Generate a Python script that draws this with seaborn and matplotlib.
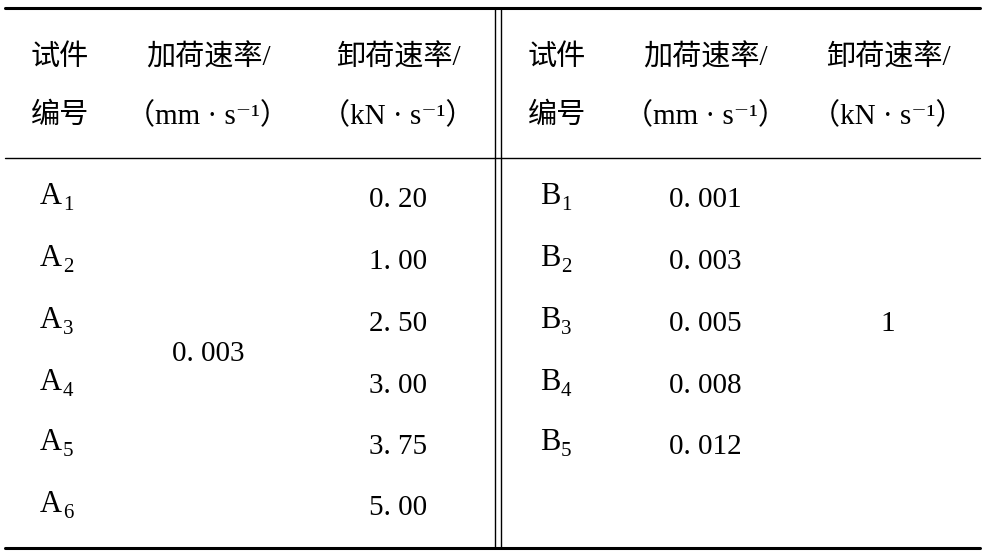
import matplotlib
matplotlib.use("Agg")
import matplotlib.pyplot as plt
import seaborn as sns

# Tabellendaten
a_ids = ["1", "2", "3", "4", "5", "6"]
a_load = "0. 003"
a_unload = ["0. 20", "1. 00", "2. 50", "3. 00", "3. 75", "5. 00"]
b_ids = ["1", "2", "3", "4", "5"]
b_load = ["0. 001", "0. 003", "0. 005", "0. 008", "0. 012"]
b_unload = "1"
header_top = ["试件", "加荷速率/", "卸荷速率/"]
header_bot = ["编号", "（mm · s⁻¹）", "（kN · s⁻¹）"]

sns.set_theme(style="white")
plt.rcParams["font.family"] = ["Liberation Serif", "Noto Sans CJK SC", "DejaVu Serif"]
plt.rcParams["mathtext.fontset"] = "stix"
plt.rcParams["text.color"] = "black"

fig = plt.figure(figsize=(9.92, 5.6), dpi=100)
ax = fig.add_axes([0, 0, 1, 1])
ax.set_xlim(0, 992)
ax.set_ylim(560, 0)
ax.axis("off")

fs = 21
left_x = [60, 208, 398]
right_x = [557, 705, 888]
row_y = [200, 262, 324, 386, 447, 508]

for cols in (left_x, right_x):
    for x, t, b in zip(cols, header_top, header_bot):
        ax.text(x, 58, t, ha="center", va="center", fontsize=fs)
        ax.text(x, 116, b, ha="center", va="center", fontsize=fs)


def label(x, y, letter, sub):
    ax.text(x - 2, y, letter, ha="right", va="center", fontsize=fs + 1)
    ax.text(x - 1, y + 9, sub, ha="left", va="center", fontsize=fs - 6)


for i, y in enumerate(row_y):
    label(64, y - 4, "A", a_ids[i])
    ax.text(398, y, a_unload[i], ha="center", va="center", fontsize=fs)
ax.text(208, 354, a_load, ha="center", va="center", fontsize=fs)

for i, y in enumerate(row_y[:len(b_ids)]):
    label(562, y - 4, "B", b_ids[i])
    ax.text(705, y, b_load[i], ha="center", va="center", fontsize=fs)
ax.text(888, 324, b_unload, ha="center", va="center", fontsize=fs)

# Linien
ax.plot([5, 980], [8, 8], color="black", lw=2.2)
ax.plot([5, 980], [158, 158], color="black", lw=1.0)
ax.plot([5, 980], [548, 548], color="black", lw=2.2)
ax.plot([495, 495], [8, 548], color="black", lw=1.0)
ax.plot([501, 501], [8, 548], color="black", lw=1.0)

fig.savefig("out.png", dpi=100, facecolor="white")
